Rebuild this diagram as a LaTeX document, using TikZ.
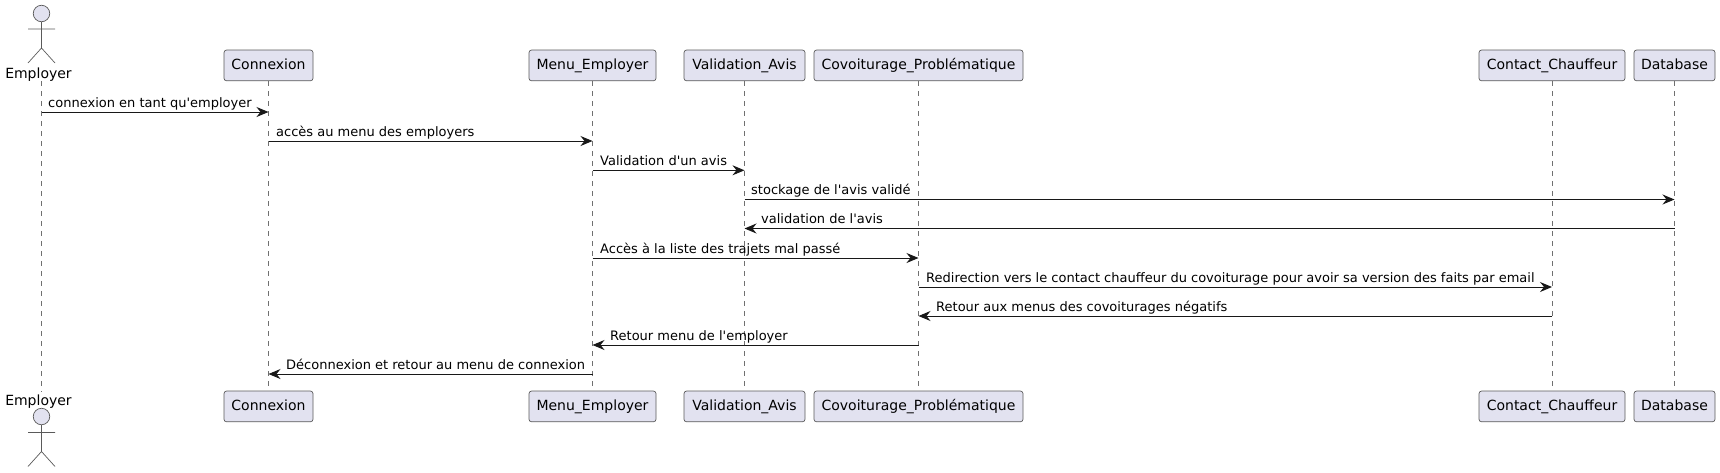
\documentclass[tikz,border=0pt]{standalone}
\usepackage{fontspec}
\newfontfamily\plainface{DejaVu Sans}
\usetikzlibrary{arrows.meta}
\definecolor{partfill}{HTML}{E2E2F0}
\definecolor{partline}{HTML}{5A5A5A}
\definecolor{lifecol}{HTML}{707070}
\definecolor{msgcol}{HTML}{181818}
\tikzset{
  part/.style={draw=partline,fill=partfill,line width=0.7pt,rounded corners=2.5pt,minimum height=30.7pt,inner sep=0pt,text height=10.5pt,text depth=3pt,font=\plainface\fontsize{14}{16}\selectfont},
  lifeline/.style={draw=lifecol,line width=0.7pt,dash pattern=on 5pt off 5pt},
  actorline/.style={draw=partline,line width=0.7pt,fill=partfill},
  actorname/.style={inner sep=0pt,anchor=base,font=\plainface\fontsize{14}{16}\selectfont},
  msg/.style={draw=msgcol,line width=1pt,-{Stealth[length=12pt,width=10pt,inset=4pt]}},
  lbl/.style={inner sep=0pt,anchor=base west,font=\plainface\fontsize{13}{16}\selectfont},
}
\begin{document}
\begin{tikzpicture}[x=1pt,y=-1pt]
\useasboundingbox (0,0) rectangle (1720,472);
% participants, top
\coordinate (empT) at (41.5,81);
\coordinate (empB) at (41.5,391.5);
\node[part,minimum width=89pt]  (conT) at (268.5,65.4) {Connexion};
\node[part,minimum width=127pt] (menT) at (592.5,65.4) {Menu\_Employer};
\node[part,minimum width=121pt] (valT) at (744.5,65.4) {Validation\_Avis};
\node[part,minimum width=209pt] (covT) at (918.5,65.4) {Covoiturage\_Problématique};
\node[part,minimum width=146pt] (chaT) at (1552,65.4) {Contact\_Chauffeur};
\node[part,minimum width=81pt]  (datT) at (1674.5,65.4) {Database};
% participants, bottom
\node[part,minimum width=89pt]  (conB) at (268.5,406.4) {Connexion};
\node[part,minimum width=127pt] (menB) at (592.5,406.4) {Menu\_Employer};
\node[part,minimum width=121pt] (valB) at (744.5,406.4) {Validation\_Avis};
\node[part,minimum width=209pt] (covB) at (918.5,406.4) {Covoiturage\_Problématique};
\node[part,minimum width=146pt] (chaB) at (1552,406.4) {Contact\_Chauffeur};
\node[part,minimum width=81pt]  (datB) at (1674.5,406.4) {Database};
% lifelines
\draw[lifeline] (empT) -- (empB);
\foreach \n in {con,men,val,cov,cha,dat} \draw[lifeline] (\n T.south) -- (\n B.north);
% actors
\node[actorname] (empNameT) at (38.5,78) {Employer};
\node[actorname] (empNameB) at (38.5,405) {Employer};
\node[actorline,circle,minimum size=16.5pt,inner sep=0pt] (headT) at (41.5,13.5) {};
\draw[actorline,fill=none] (headT.south) -- (41.5,48) (28,29) -- (55,29) (28,63) -- (41.5,48) -- (55,63);
\node[actorline,circle,minimum size=16.5pt,inner sep=0pt] (headB) at (41.5,416.5) {};
\draw[actorline,fill=none] (headB.south) -- (41.5,451.5) (28,432.5) -- (55,432.5) (28,466.5) -- (41.5,451.5) -- (55,466.5);
% messages: from, to, y, label x, label
\newcommand{\msgline}[5]{%
  \draw[msg] (#1 |- 0,#3) -- (#2 |- 0,#3);
  \node[lbl] at (#4,#3-4.8) {#5};
}
\msgline{empT}{conT.south}{112}{48}{connexion en tant qu'employer}
\msgline{conT.south}{menT.south}{141}{276}{accès au menu des employers}
\msgline{menT.south}{valT.south}{170.3}{600}{Validation d'un avis}
\msgline{valT.south}{datT.south}{199.5}{751}{stockage de l'avis validé}
\msgline{datT.south}{valT.south}{228.5}{761}{validation de l'avis}
\msgline{menT.south}{covT.south}{258}{600}{Accès à la liste des trajets mal passé}
\msgline{covT.south}{chaT.south}{287}{926}{Redirection vers le contact chauffeur du covoiturage pour avoir sa version des faits par email}
\msgline{chaT.south}{covT.south}{316}{936}{Retour aux menus des covoiturages négatifs}
\msgline{covT.south}{menT.south}{345}{610}{Retour menu de l'employer}
\msgline{menT.south}{conT.south}{374}{286}{Déconnexion et retour au menu de connexion}
\end{tikzpicture}
\end{document}
